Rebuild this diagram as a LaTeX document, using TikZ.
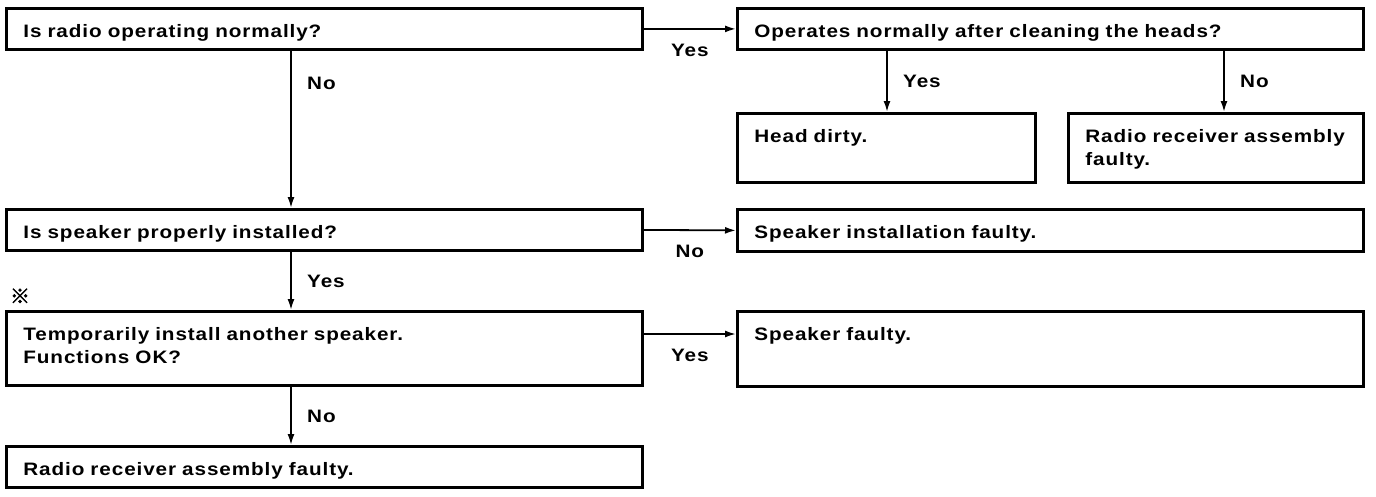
\documentclass[tikz,border=0pt]{standalone}
\usepackage{fontspec}
\usetikzlibrary{arrows.meta}
\newfontfamily\manualfont[FakeStretch=1.15,LetterSpace=5]{Liberation Sans}
\newfontfamily\cjk[FakeBold=2.5]{Noto Sans CJK JP}

\begin{document}
\begin{tikzpicture}[x = 1pt, y = -1pt,
  font = \manualfont\bfseries\fontsize{18}{23}\selectfont,
  box/.style = {draw, line width = 2.8pt, anchor = north west, align = left,
    inner xsep = 17pt, inner ysep = 0pt, text height = 29pt, text depth = 12pt,
    text width = #1},
  arr/.style = {line width = 1.8pt, -{Latex[length = 11pt, width = 7pt]}}]
\useasboundingbox (0,0) rectangle (1376,496);
\node[box = 602] (radioOk) at (5,7) {Is radio operating normally?};
\node[box = 592] (headsOk) at (736,7) {Operates normally after cleaning the heads?};
\node[box = 264, text depth = 40pt] (headDirty) at (736,112) {Head dirty.};
\node[box = 261, text depth = 40pt] (receiverA) at (1067,112) {Radio receiver assembly\\faulty.};
\node[box = 602] (speakerOk) at (5,208) {Is speaker properly installed?};
\node[box = 592, text depth = 13pt] (installBad) at (736,208) {Speaker installation faulty.};
\node (refMark) at (20,296) {\cjk\mdseries\fontsize{20}{20}\selectfont ※};
\node[box = 602, text depth = 45pt] (tryOther) at (5,310) {Temporarily install another speaker.\\Functions OK?};
\node[box = 592, text depth = 46pt] (speakerBad) at (736,310) {Speaker faulty.};
\node[box = 602] (receiverB) at (5,445) {Radio receiver assembly faulty.};
% connectors
\draw[arr] (radioOk.east) -- node[below = 11pt] {Yes} (headsOk.west);
\draw[arr] ([xshift = 151pt]headsOk.south west) -- node[right = 12pt] {Yes} ([xshift = 151pt]headDirty.north west);
\draw[arr] ([xshift = 488pt]headsOk.south west) -- node[right = 12pt] {No} ([xshift = 157pt]receiverA.north west);
\draw[arr] ([xshift = 286pt]radioOk.south west) -- node[right = 12pt, pos = 0.21] {No} ([xshift = 286pt]speakerOk.north west);
\draw[arr] (speakerOk.east) -- node[below = 11pt] {No} (installBad.west);
\draw[arr] ([xshift = 286pt]speakerOk.south west) -- node[right = 12pt] {Yes} ([xshift = 286pt]tryOther.north west);
\draw[arr] ([yshift = -24pt]tryOther.north east) -- node[below = 11pt] {Yes} ([yshift = -24pt]speakerBad.north west);
\draw[arr] ([xshift = 286pt]tryOther.south west) -- node[right = 12pt] {No} ([xshift = 286pt]receiverB.north west);
\end{tikzpicture}
\end{document}
